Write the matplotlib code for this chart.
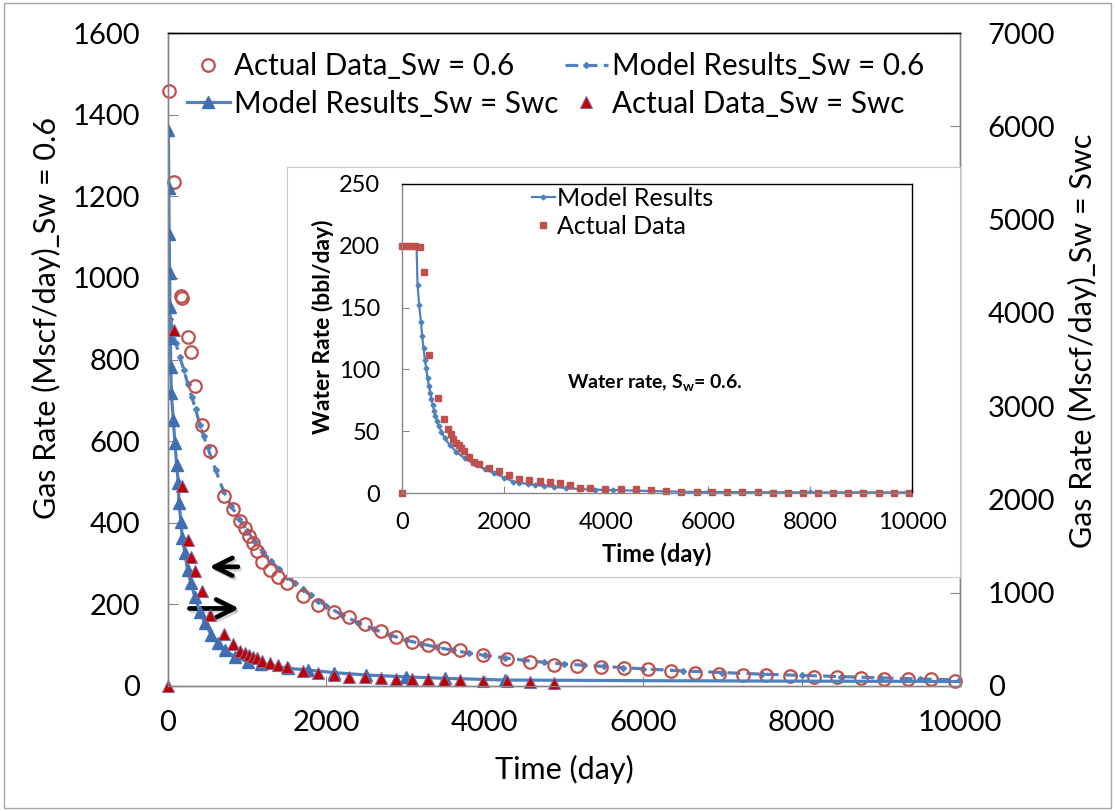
import matplotlib
matplotlib.use('Agg')
from matplotlib import pyplot as plt
from matplotlib.patches import Rectangle

plt.rcParams['font.family'] = ['Lato', 'DejaVu Sans']
plt.rcParams['mathtext.fontset'] = 'custom'
plt.rcParams['mathtext.rm'] = 'Lato'
plt.rcParams['mathtext.it'] = 'Lato:italic'
plt.rcParams['mathtext.bf'] = 'Lato:bold'

W, H = 1115.0, 811.0

BLUE = '#4F81BD'
TRI_BLUE = '#3F6FB0'
RED = '#C0504D'
DARK_RED = '#C00000'
GRAY = '#868686'

# --- main chart: gas rate, Sw = 0.6 (left axis) ---
t_act06 = [10, 75, 165, 180, 256, 285, 340, 424, 528, 708,
           818, 906, 969, 1023, 1078, 1128, 1187, 1287, 1388, 1497,
           1702, 1891, 2092, 2281, 2491, 2688, 2885, 3086, 3287, 3484,
           3681, 3975, 4281, 4575, 4868, 5161, 5468, 5761, 6063, 6356,
           6658, 6956, 7262, 7556, 7853, 8151, 8453, 8746, 9044, 9342,
           9639, 9941]
q_act06 = [1459, 1236, 955, 950, 854, 819, 735, 640, 577, 466,
           433, 404, 386, 368, 350, 331, 305, 284, 268, 252,
           221, 199, 182, 168, 151, 135, 119, 108, 100, 94,
           87, 77, 67, 58, 52, 49, 46, 44, 42, 37,
           33, 30, 28, 26, 24.5, 22, 21, 20, 18, 16,
           16, 13]

t_mod06 = [30, 60, 100, 150, 200, 250, 300, 350, 400, 450,
           500, 600, 700, 800, 900, 1000, 1100, 1200, 1300, 1400,
           1500, 1600, 1700, 1800, 1900, 2000, 2200, 2400, 2600, 2800,
           3000, 3200, 3400, 3600, 3800, 4000, 4250, 4500, 4750, 5000,
           5250, 5500, 5750, 6000, 6500, 7000, 7500, 8000, 8500, 9000,
           9500, 10000]
q_mod06 = [900, 868, 840, 805, 775, 740, 708, 678, 640, 612,
           585, 530, 478, 440, 410, 380, 353, 328, 306, 287,
           268, 252, 237, 222, 209, 196, 174, 155, 139, 125,
           113, 103, 95, 87, 81, 75, 69, 63, 58, 54,
           51, 48, 45, 42, 37, 33, 29, 26, 23, 20,
           17, 15]

# --- main chart: gas rate, Sw = Swc (right axis) ---
t_modswc = [5, 10, 15, 20, 25, 30, 35, 42, 67, 88,
            109, 130, 138, 164, 180, 214, 247, 289, 340, 402,
            465, 549, 633, 717, 843, 1010, 1178, 1513, 1765, 2101,
            2500, 3000, 3500, 4260, 6000, 8000, 10000]
q_modswc = [5960, 5335, 4842, 4424, 4059, 3727, 3423, 3137, 2851, 2602,
            2369, 2173, 1958, 1761, 1583, 1422, 1243, 1101, 957, 797,
            672, 547, 458, 386, 314, 260, 236, 190, 171, 143,
            118, 98, 82, 64, 57, 52, 48]

t_actswc = [0, 75, 172, 256, 285, 340, 424, 528, 708, 818,
            906, 969, 1023, 1078, 1128, 1187, 1287, 1388, 1497, 1702,
            1891, 2092, 2281, 2491, 2688, 2885, 3086, 3287, 3484, 3681,
            3975, 4281, 4575, 4868]
q_actswc = [0, 3820, 2140, 1565, 1386, 1236, 1022, 761, 557, 447,
            379, 357, 332, 314, 297, 268, 243, 225, 207, 164,
            136, 115, 100, 93, 89, 79, 77, 72, 68, 64,
            50, 50, 43, 29]

# --- inset: water rate, Sw = 0.6 ---
t_wact = [0, 6, 90, 175, 253, 351, 435, 532, 715, 825,
          910, 955, 1007, 1066, 1111, 1163, 1208, 1306, 1410, 1507,
          1702, 1897, 2099, 2300, 2495, 2703, 2899, 3094, 3290, 3483,
          3690, 3990, 4288, 4581, 4880, 5179, 5478, 5776, 6074, 6374,
          6673, 6971, 7270, 7568, 7862, 8162, 8460, 8752, 9045, 9350,
          9649, 9947]
q_wact = [0, 200, 200, 200, 199.5, 199, 178.6, 111.6, 76.6, 59.6,
          51.5, 47.5, 43.4, 40.7, 38.8, 36.2, 34.2, 29.4, 24.8, 23.2,
          20.5, 17.8, 14.3, 11.6, 10.5, 9.4, 8.6, 7.8, 6.5, 3.8,
          3.8, 3.2, 3.2, 3.0, 2.2, 1.6, 1.0, 0.8, 0.6, 0.5,
          0.5, 0.5, 0.4, 0.4, 0.4, 0.3, 0.3, 0.3, 0.3, 0.3,
          0.3, 0.3]

t_wmod = [0, 100, 200, 286, 305, 337, 370, 396, 423, 448,
          474, 500, 526, 552, 578, 604, 630, 656, 682, 721,
          774, 838, 936, 1066, 1228, 1423, 1618, 1813, 2000, 2183,
          2300, 2462, 2612, 2788, 2982, 3210, 3470, 3776, 4140, 4575,
          4900, 5500, 6000, 7000, 8000, 9000, 10000]
q_wmod = [200, 200, 200, 199, 168, 152, 138.6, 126.8, 117, 108,
          101, 93, 86.8, 81, 76, 71, 66.3, 62.3, 58.5, 54.4,
          49.6, 44.2, 38.8, 33.4, 28, 23.2, 19.4, 15.9, 12.5, 9.2,
          8.3, 7.3, 6.5, 5.7, 4.9, 4.0, 3.2, 2.7, 2.4, 1.9,
          1.6, 1.0, 0.8, 0.6, 0.5, 0.5, 0.5]


def style_spines(ax, top_color, right_color):
    ax.spines['left'].set_color(GRAY)
    ax.spines['bottom'].set_color(GRAY)
    ax.spines['top'].set_color(top_color)
    ax.spines['right'].set_color(right_color)
    for s in ax.spines.values():
        s.set_linewidth(1.0)


fig = plt.figure(figsize=(W / 100, H / 100), dpi=100)
fig.patches.append(Rectangle((0.004, 0.004), 0.992, 0.992, transform=fig.transFigure,
                             fill=False, edgecolor='#a6a6a6', lw=1))

ax = fig.add_axes([168 / W, 1 - 686 / H, (960 - 168) / W, (686 - 33) / H])
ax2 = ax.twinx()

l_mod06, = ax.plot(t_mod06, q_mod06, color=BLUE, lw=2.3, ls=(0, (4, 2)),
                   marker='D', ms=3, mfc=BLUE, mec=BLUE,
                   label='Model Results_Sw = 0.6')
l_act06, = ax.plot(t_act06, q_act06, ls='none', marker='o', ms=9, mfc='none',
                   mec=RED, mew=1.6, clip_on=False, label='Actual Data_Sw = 0.6')

l_modswc, = ax2.plot(t_modswc, q_modswc, color=BLUE, lw=2.3, marker='^', ms=8,
                     mfc=TRI_BLUE, mec=TRI_BLUE, markevery=list(range(len(t_modswc) - 3)),
                     label='Model Results_Sw = Swc')
l_actswc, = ax2.plot(t_actswc, q_actswc, ls='none', marker='^', ms=8, mfc=DARK_RED,
                     mec='#7F6A9C', mew=0.8, clip_on=False, label='Actual Data_Sw = Swc')

ax.set_xlim(0, 10000)
ax.set_ylim(0, 1600)
ax2.set_ylim(0, 7000)
ax.set_xticks(range(0, 10001, 2000))
ax.set_yticks(range(0, 1601, 200))
ax2.set_yticks(range(0, 7001, 1000))

ax.tick_params(axis='y', direction='in', length=7, color=GRAY, labelsize=21, pad=20)
ax.tick_params(axis='x', direction='in', length=7, color=GRAY, labelsize=21, pad=17)
ax2.tick_params(axis='y', direction='in', length=7, color=GRAY, labelsize=21, pad=20)
style_spines(ax, 'black', GRAY)
style_spines(ax2, 'black', GRAY)

ax.set_ylabel('Gas Rate (Mscf/day)_Sw = 0.6', fontsize=22)
ax.yaxis.set_label_coords(-0.135, 0.5636)
ax2.set_ylabel('Gas Rate (Mscf/day)_Sw = Swc', fontsize=22)
ax2.yaxis.set_label_coords(1.136, 0.528)
ax.set_xlabel('Time (day)', fontsize=22)
ax.xaxis.set_label_coords(0.501, -0.105)

# arrows pointing to the matching axis
for x0, x1, y in [(918, 487, 292), (235, 935, 190)]:
    ax.annotate('', xy=(x1 + 25, y - 6), xytext=(x0 + 25, y - 6),
                arrowprops=dict(arrowstyle='->', lw=3.4, color='#bbbbbb',
                                mutation_scale=32, alpha=0.6))
    ax.annotate('', xy=(x1, y), xytext=(x0, y),
                arrowprops=dict(arrowstyle='->', lw=3.4, color='black',
                                mutation_scale=32))

ax2.legend([l_act06, l_modswc, l_mod06, l_actswc],
           [l.get_label() for l in [l_act06, l_modswc, l_mod06, l_actswc]],
           ncol=2, loc='upper left', bbox_to_anchor=(0.024, 0.971), frameon=False,
           fontsize=21.3, handlelength=1.45, handletextpad=0.15, columnspacing=0.2,
           labelspacing=0.33, borderpad=0, borderaxespad=0)

# --- inset panel ---
axbg = fig.add_axes([287 / W, 1 - 577 / H, (960 - 287) / W, (577 - 167) / H])
axbg.set_xticks([])
axbg.set_yticks([])
axbg.set_facecolor('white')
for s in axbg.spines.values():
    s.set_color('#c8c8c8')

axin = fig.add_axes([402 / W, 1 - 493 / H, (912 - 402) / W, (493 - 184) / H])
l_wmod, = axin.plot(t_wmod, q_wmod, color=BLUE, lw=1.6, marker='D', ms=2.5,
                    mfc=BLUE, mec=BLUE, label='Model Results')
l_wact, = axin.plot(t_wact, q_wact, ls='none', marker='s', ms=4.5, mfc=RED,
                    mec=RED, clip_on=False, label='Actual Data')
axin.set_xlim(0, 10000)
axin.set_ylim(0, 250)
axin.set_xticks(range(0, 10001, 2000))
axin.set_yticks(range(0, 251, 50))
axin.tick_params(axis='y', direction='in', length=5, color=GRAY, labelsize=17, pad=16)
axin.tick_params(axis='x', direction='in', length=5, color=GRAY, labelsize=17, pad=14)
style_spines(axin, 'black', 'black')

axin.set_ylabel('Water Rate (bbl/day)', fontsize=16.5, fontweight='bold')
axin.yaxis.set_label_coords(-0.133, 0.537)
axin.set_xlabel('Time (day)', fontsize=17, fontweight='bold')
axin.xaxis.set_label_coords(0.5, -0.16)
axin.text(0.496, 0.359, r'Water rate, $\mathbf{S_w}$= 0.6.', transform=axin.transAxes,
          ha='center', va='center', fontsize=14, fontweight='bold')
axin.legend(loc='upper left', bbox_to_anchor=(0.255, 0.99), frameon=False, fontsize=18,
            handlelength=0.9, handletextpad=0.1, labelspacing=0.2, borderpad=0,
            borderaxespad=0)

fig.savefig('out.png', dpi=100)
